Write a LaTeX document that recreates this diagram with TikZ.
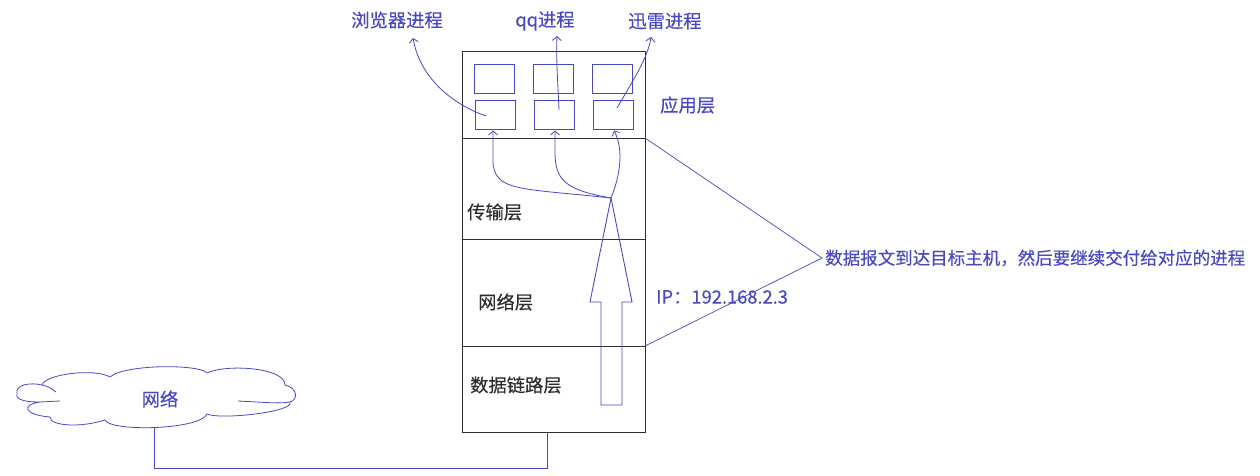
\documentclass[tikz,border=0pt]{standalone}
\usepackage{fontspec}
\setmainfont{Noto Sans CJK SC}[FakeBold=0.3]
\usetikzlibrary{arrows.meta}
\definecolor{pen}{RGB}{72,72,196}
\definecolor{ink}{RGB}{45,45,45}
\begin{document}
\begin{tikzpicture}[x=1pt,y=-1pt,
  lbl/.style={font=\fontsize{18.3}{20}\selectfont,inner sep=0pt},
  bluelbl/.style={lbl,text=pen},
  blacklbl/.style={lbl,text=ink},
  appbox/.style={draw=pen,line width=1pt,minimum width=40pt,minimum height=29pt,inner sep=0pt},
  conn/.style={draw=pen,line width=0.8pt},
  tip/.style={-{Straight Barb[length=4pt,width=9pt]}}]
\useasboundingbox (0,0) rectangle (1260,476);
% main stack
\node[draw=ink,line width=1pt,minimum width=183pt,minimum height=380pt,inner sep=0pt] (stack) at (553.5,242) {};
\draw[ink,line width=1pt] (462,138) -- (645,138);
\draw[ink,line width=1pt] (462,239) -- (645,239);
\draw[ink,line width=1pt] (462,346) -- (645,346);
% application boxes
\node[appbox] (a1) at (494,79) {};
\node[appbox] (a2) at (553,79) {};
\node[appbox] (a3) at (612,79) {};
\node[appbox] (b1) at (495,115.5) {};
\node[appbox] (b2) at (554,115.5) {};
\node[appbox] (b3) at (613,115.5) {};
% labels
\node[bluelbl] (browser) at (397,20) {浏览器进程};
\node[bluelbl] (qq) at (545,21) {qq进程};
\node[bluelbl] (xunlei) at (665,21) {迅雷进程};
\node[bluelbl,anchor=west] (app) at (660,105) {应用层};
\node[blacklbl,anchor=west] (trans) at (467,212) {传输层};
\node[blacklbl,anchor=west] (net) at (478,302) {网络层};
\node[blacklbl,anchor=west] (link) at (470,385) {数据链路层};
\node[bluelbl,anchor=west] (ip) at (656,297) {IP：192.168.2.3};
\node[bluelbl,anchor=west,font=\fontsize{17.5}{20}\selectfont] (note) at (825,258) {数据报文到达目标主机，然后要继续交付给对应的进程};
% process arrows
\coordinate (bs) at (486,116);
\coordinate (be) at (413,38);
\coordinate (qs) at (559,110);
\coordinate (qe) at (557,36);
\coordinate (xs) at (617,108);
\coordinate (xe) at (651,37);
\draw[conn,tip] (bs) .. controls (452,104) and (420,78) .. (be);
\draw[conn,tip] (qs) .. controls (558,85) and (556,60) .. (qe);
\draw[conn,tip] (xs) .. controls (632,82) and (648,58) .. (xe);
% transport demux
\coordinate (t) at (611,198);
\draw[conn,tip] (t) .. controls (520,188) and (493,192) .. (493,160) -- (b1.south -| 493,0);
\draw[conn,tip] (t) .. controls (565,190) and (555,180) .. (555,152) -- (b2.south -| 555,0);
\draw[conn,tip] (t) .. controls (620,176) and (624,150) .. (b3.south -| 614,0);
% big arrow
\draw[pen,line width=0.9pt] (t) -- (632,302) -- (622,302) -- (622,405) -- (601,405) -- (601,302) -- (590,302) -- cycle;
% note connectors
\coordinate (nc) at (822,258);
\draw[conn,line width=0.7pt] (645,138) -- (nc) -- (645,346);
% cloud
\draw[pen,line width=0.8pt] (17,393) .. controls (15,385) and (30,382) .. (42,385)
  .. controls (45,374) and (95,368) .. (110,377)
  .. controls (125,364) and (200,364) .. (207,373)
  .. controls (225,364) and (285,367) .. (285,385)
  .. controls (298,388) and (298,400) .. (290,402)
  .. controls (295,412) and (220,420) .. (207,414)
  .. controls (200,430) and (110,432) .. (105,420)
  .. controls (80,428) and (50,426) .. (50,417)
  .. controls (25,415) and (20,405) .. (40,402)
  .. controls (20,402) and (15,398) .. (17,393);
\draw[pen,line width=0.8pt] (40,402) -- (60,401);
\draw[pen,line width=0.8pt] (42,385) .. controls (48,386) and (52,389) .. (56,392);
\draw[pen,line width=0.8pt] (238,401) .. controls (260,402) and (280,404) .. (290,402);
\coordinate (cloudbot) at (154,427);
\node[bluelbl] (cloudlbl) at (160,399) {网络};
\coordinate (cb) at (547,432);
\draw[conn] (cloudbot) -- (154,468) -| (cb);
\end{tikzpicture}
\end{document}
